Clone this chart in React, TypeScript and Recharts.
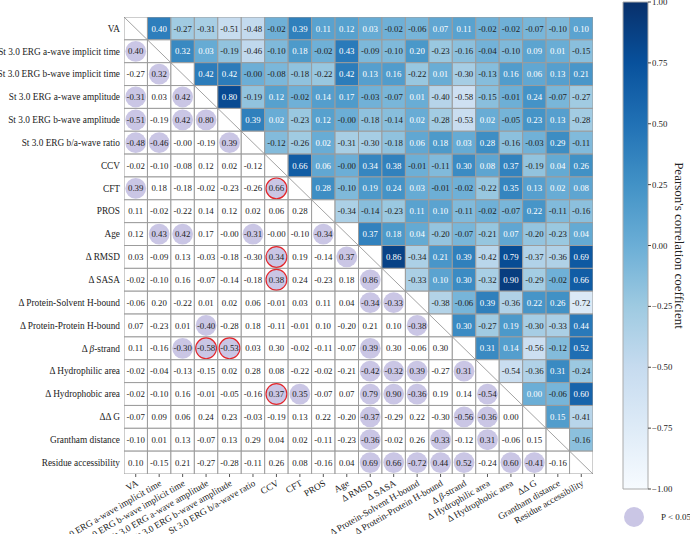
import React from 'react';
import { ScatterChart, Scatter, XAxis, YAxis, ComposedChart, Line, ReferenceArea } from 'recharts';

const FONT = "'Liberation Serif', 'Times New Roman', serif";

const variables = [
  'VA',
  'St 3.0 ERG a-wave implicit time',
  'St 3.0 ERG b-wave implicit time',
  'St 3.0 ERG a-wave amplitude',
  'St 3.0 ERG b-wave amplitude',
  'St 3.0 ERG b/a-wave ratio',
  'CCV',
  'CFT',
  'PROS',
  'Age',
  'Δ RMSD',
  'Δ SASA',
  'Δ Protein-Solvent H-bound',
  'Δ Protein-Protein H-bound',
  'Δ β-strand',
  'Δ Hydrophilic area',
  'Δ Hydrophobic area',
  'ΔΔ G',
  'Grantham distance',
  'Residue accessibility',
];

// row i holds r(i, 0..i-1); the upper half is the mirror
const lowerTriangle = [
  [],
  [0.40],
  [-0.27, 0.32],
  [-0.31, 0.03, 0.42],
  [-0.51, -0.19, 0.42, 0.80],
  [-0.48, -0.46, -0.004, -0.19, 0.39],
  [-0.02, -0.10, -0.08, 0.12, 0.02, -0.12],
  [0.39, 0.18, -0.18, -0.02, -0.23, -0.26, 0.66],
  [0.11, -0.02, -0.22, 0.14, 0.12, 0.02, 0.06, 0.28],
  [0.12, 0.43, 0.42, 0.17, -0.004, -0.31, -0.004, -0.10, -0.34],
  [0.03, -0.09, 0.13, -0.03, -0.18, -0.30, 0.34, 0.19, -0.14, 0.37],
  [-0.02, -0.10, 0.16, -0.07, -0.14, -0.18, 0.38, 0.24, -0.23, 0.18, 0.86],
  [-0.06, 0.20, -0.22, 0.01, 0.02, 0.06, -0.01, 0.03, 0.11, 0.04, -0.34, -0.33],
  [0.07, -0.23, 0.01, -0.40, -0.28, 0.18, -0.11, -0.01, 0.10, -0.20, 0.21, 0.10, -0.38],
  [0.11, -0.16, -0.30, -0.58, -0.53, 0.03, 0.30, -0.02, -0.11, -0.07, 0.39, 0.30, -0.06, 0.30],
  [-0.02, -0.04, -0.13, -0.15, 0.02, 0.28, 0.08, -0.22, -0.02, -0.21, -0.42, -0.32, 0.39, -0.27, 0.31],
  [-0.02, -0.10, 0.16, -0.01, -0.05, -0.16, 0.37, 0.35, -0.07, 0.07, 0.79, 0.90, -0.36, 0.19, 0.14, -0.54],
  [-0.07, 0.09, 0.06, 0.24, 0.23, -0.03, -0.19, 0.13, 0.22, -0.20, -0.37, -0.29, 0.22, -0.30, -0.56, -0.36, 0.00],
  [-0.10, 0.01, 0.13, -0.07, 0.13, 0.29, 0.04, 0.02, -0.11, -0.23, -0.36, -0.02, 0.26, -0.33, -0.12, 0.31, -0.06, 0.15],
  [0.10, -0.15, 0.21, -0.27, -0.28, -0.11, 0.26, 0.08, -0.16, 0.04, 0.69, 0.66, -0.72, 0.44, 0.52, -0.24, 0.60, -0.41, -0.16],
];

// [row, col] with P < 0.05 (lower half)
const significantPairs = [
  [1, 0], [2, 1], [3, 0], [3, 2], [4, 0], [4, 2], [4, 3], [5, 0], [5, 1], [5, 4],
  [7, 0], [7, 6], [9, 1], [9, 2], [9, 5], [9, 8], [10, 6], [10, 9], [11, 6], [11, 10],
  [12, 10], [12, 11], [13, 3], [13, 12], [14, 2], [14, 3], [14, 4], [14, 10],
  [15, 10], [15, 11], [15, 12], [15, 14], [16, 6], [16, 7], [16, 10], [16, 11], [16, 12], [16, 15],
  [17, 10], [17, 14], [17, 15], [18, 10], [18, 13], [18, 15],
  [19, 10], [19, 11], [19, 12], [19, 13], [19, 14], [19, 16], [19, 17],
];

// red-ringed cells
const highlightedPairs = [[7, 6], [10, 6], [11, 6], [14, 3], [14, 4], [16, 6]];

const colorbarTicks = [-1, -0.75, -0.5, -0.25, 0, 0.25, 0.5, 0.75, 1];

const bluesStops = ['#f7fbff', '#deebf7', '#c6dbef', '#9ecae1', '#6baed6', '#4292c6', '#2171b5', '#08519c', '#08306b'];

const N = variables.length;
const PLOT_LEFT = 124;
const PLOT_TOP = 17;
const PLOT_W = 469;
const PLOT_H = 457;
const CW = PLOT_W / N;
const CH = PLOT_H / N;
const GRID = '#9c9c9c';
const SIG_FILL = '#cac6e5';

const hex = (h: string) => [1, 3, 5].map((i) => parseInt(h.slice(i, i + 2), 16));

function blues(v: number) {
  const t = Math.min(1, Math.max(0, (v + 1) / 2)) * (bluesStops.length - 1);
  const i = Math.min(bluesStops.length - 2, Math.floor(t));
  const f = t - i;
  const a = hex(bluesStops[i]);
  const b = hex(bluesStops[i + 1]);
  const c = a.map((x, k) => Math.round(x + (b[k] - x) * f));
  return `rgb(${c[0]},${c[1]},${c[2]})`;
}

const hasPair = (list: number[][], r: number, c: number) => list.some(([a, b]) => a === r && b === c);

const corr = (i: number, j: number) => (i > j ? lowerTriangle[i][j] : lowerTriangle[j][i]);

const cells: any[] = [];
for (let i = 0; i < N; i++) {
  for (let j = 0; j < N; j++) {
    const kind = i === j ? 'diag' : i > j ? 'lower' : 'upper';
    const v = i === j ? 1 : corr(i, j);
    cells.push({
      x: j + 0.5,
      y: i + 0.5,
      v,
      kind,
      sig: kind === 'lower' && hasPair(significantPairs, i, j),
      ring: kind === 'lower' && hasPair(highlightedPairs, i, j),
    });
  }
}

const ticks = variables.map((_, i) => i + 0.5);

function labelText(name: string) {
  if (!name.includes('β')) return name;
  const [a, b] = name.split('β');
  return [
    <tspan key="a">{a}</tspan>,
    <tspan key="b" fontStyle="italic">β</tspan>,
    <tspan key="c">{b}</tspan>,
  ];
}

function CellShape(props: any) {
  const { cx, cy, payload } = props;
  const x0 = cx - CW / 2;
  const y0 = cy - CH / 2;
  if (payload.kind === 'diag') {
    return (
      <g>
        <rect x={x0} y={y0} width={CW} height={CH} fill="#fff" stroke={GRID} strokeWidth={1} />
        <line x1={x0} y1={y0} x2={x0 + CW} y2={y0 + CH} stroke="#8c8c8c" strokeWidth={0.8} />
      </g>
    );
  }
  const txt = payload.v.toFixed(2);
  if (payload.kind === 'upper') {
    return (
      <g>
        <rect x={x0} y={y0} width={CW} height={CH} fill={blues(payload.v)} stroke={GRID} strokeWidth={1} />
        <text x={cx} y={cy} dy="0.35em" textAnchor="middle" fontSize={8.8} fontFamily={FONT}
          fill={txt.startsWith('-') ? '#222' : '#ffffff'}>{txt}</text>
      </g>
    );
  }
  return (
    <g>
      <rect x={x0} y={y0} width={CW} height={CH} fill="#fff" stroke={GRID} strokeWidth={1} />
      {payload.sig && (
        <circle cx={cx} cy={cy} r={10.4} fill={SIG_FILL}
          stroke={payload.ring ? '#e3262b' : 'none'} strokeWidth={payload.ring ? 1.2 : 0} />
      )}
      <text x={cx} y={cy} dy="0.35em" textAnchor="middle" fontSize={8.8} fontFamily={FONT} fill="#222">{txt}</text>
    </g>
  );
}

function XTick(props: any) {
  const { x, y, payload } = props;
  const name = variables[Math.floor(payload.value)];
  return (
    <g transform={`translate(${x + 3},${y + 8})`}>
      <text transform="rotate(-30)" textAnchor="end" fontSize={9.3} fontFamily={FONT} fill="#222">
        {labelText(name)}
      </text>
    </g>
  );
}

function YTick(props: any) {
  const { y, payload } = props;
  const name = variables[Math.floor(payload.value)];
  return (
    <text x={PLOT_LEFT - 4} y={y} dy="0.35em" textAnchor="end" fontSize={9.3} fontFamily={FONT} fill="#222">
      {labelText(name)}
    </text>
  );
}

function CbTitle(props: any) {
  const vb = props.viewBox || { x: 648, y: 2, width: 42, height: 487 };
  const x = vb.x + 32;
  const y = vb.y + vb.height / 2;
  return (
    <text x={x} y={y} transform={`rotate(90, ${x}, ${y})`} textAnchor="middle" dy="0.35em"
      fontSize={13} fontFamily={FONT} fill="#222">
      Pearson's correlation coefficient
    </text>
  );
}

const fmtCb = (v: number) => (v < 0 ? '\u2212' : '') + Math.abs(v).toFixed(2);

export default function App() {
  return (
    <div style={{ position: 'relative', width: 690, height: 534, fontFamily: FONT, background: '#fff' }}>
      <style>{'body{margin:0}'}</style>
      <svg width={0} height={0} style={{ position: 'absolute' }}>
        <defs>
          <linearGradient id="cbBlues" x1="0" y1="1" x2="0" y2="0">
            {bluesStops.map((c, i) => (
              <stop key={i} offset={i / (bluesStops.length - 1)} stopColor={c} />
            ))}
          </linearGradient>
        </defs>
      </svg>
      <div style={{ position: 'absolute', left: 0, top: 0 }}>
        <ScatterChart width={690} height={534} margin={{ top: PLOT_TOP, right: 690 - PLOT_LEFT - PLOT_W, bottom: 0, left: 0 }}>
          <XAxis type="number" dataKey="x" domain={[0, N]} ticks={ticks} interval={0} height={534 - PLOT_TOP - PLOT_H}
            axisLine={false} tickLine={{ stroke: '#555' }} tickSize={3} tickMargin={0} tick={<XTick />} allowDataOverflow />
          <YAxis type="number" dataKey="y" domain={[0, N]} reversed ticks={ticks} interval={0} width={PLOT_LEFT}
            axisLine={false} tickLine={false} tick={<YTick />} allowDataOverflow />
          <Scatter data={cells} shape={<CellShape />} isAnimationActive={false} />
        </ScatterChart>
      </div>
      <div style={{ position: 'absolute', left: 0, top: 0 }}>
        <ComposedChart width={690} height={534} data={colorbarTicks.map((v) => ({ x: 0.5, v }))}
          margin={{ top: 2, right: 0, bottom: 45, left: 623 }}>
          <XAxis type="number" dataKey="x" domain={[0, 1]} hide />
          <YAxis type="number" orientation="right" domain={[-1, 1]} ticks={colorbarTicks} interval={0} width={42}
            axisLine={false} tickLine={{ stroke: '#444' }} tickSize={3} tickMargin={1} tickFormatter={fmtCb}
            tick={{ fontSize: 8.8, fontFamily: FONT, fill: '#222' }} label={<CbTitle />} allowDataOverflow />
          <ReferenceArea x1={0} x2={1} y1={-1} y2={1} fill="url(#cbBlues)" fillOpacity={1} stroke="#aaa" strokeWidth={1} ifOverflow="visible" />
          <Line dataKey="v" stroke="none" dot={false} activeDot={false} isAnimationActive={false} />
        </ComposedChart>
      </div>
      <svg width={68} height={26} style={{ position: 'absolute', left: 622, top: 504 }}>
        <circle cx={12} cy={13} r={10} fill={SIG_FILL} />
        <text x={39} y={16} fontSize={9} fontFamily={FONT} fill="#222">P &lt; 0.05</text>
      </svg>
    </div>
  );
}
